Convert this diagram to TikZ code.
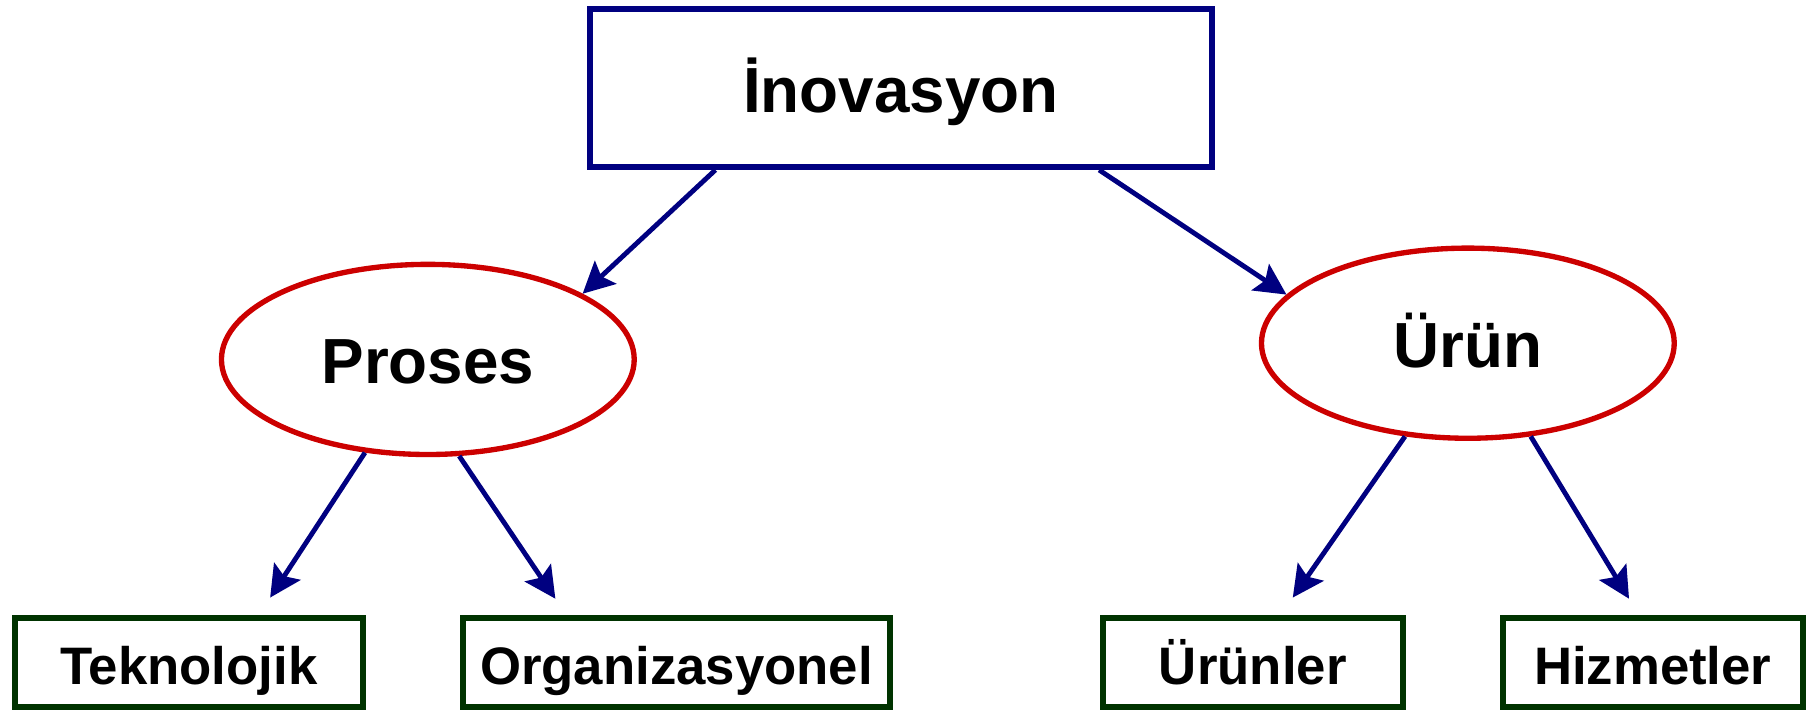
\documentclass[tikz,border=0pt]{standalone}
\usepackage{fontspec}
\setmainfont{Liberation Sans}
\usetikzlibrary{shapes.geometric,arrows.meta}
\definecolor{navyc}{RGB}{0,0,128}
\definecolor{redc}{RGB}{204,0,0}
\definecolor{greenc}{RGB}{0,51,0}
\tikzset{
  topbox/.style={draw=navyc,line width=2.6pt,rectangle,minimum width=268pt,minimum height=68pt,inner sep=0pt,text height=21pt,text depth=0pt,font=\fontsize{27.5}{33}\selectfont\bfseries},
  midell/.style={draw=redc,line width=2.3pt,ellipse,minimum width=178pt,minimum height=82pt,inner sep=0pt,text height=21pt,text depth=0pt,font=\fontsize{27.5}{33}\selectfont\bfseries},
  leafbox/.style={draw=greenc,line width=2.6pt,rectangle,minimum height=38.5pt,inner sep=0pt,text height=18.5pt,text depth=0pt,font=\fontsize{22.75}{27}\selectfont\bfseries},
  conn/.style={draw=navyc,line width=2.1pt,-{Stealth[length=13.5pt,width=13.5pt,inset=2.5pt]}}
}
\begin{document}
\begin{tikzpicture}[x=0.5pt,y=-0.5pt]
\useasboundingbox (0,0) rectangle (1568,615);
\node[topbox] (top) at (777,76) {İnovasyon};
\node[midell] (proses) at (369,310) {Proses};
\node[midell] (urun) at (1266,296) {Ürün};
\node[leafbox,minimum width=150pt] (tek) at (163,571.5) {Teknolojik};
\node[leafbox,minimum width=184.5pt] (org) at (583.5,571.5) {Organizasyonel};
\node[leafbox,minimum width=129.5pt] (urunler) at (1080.5,571.5) {Ürünler};
\node[leafbox,minimum width=129.5pt] (hiz) at (1425.5,571.5) {Hizmetler};
\draw[conn] ([xshift=-80pt]top.south) -- (proses.23.8);
\draw[conn] ([xshift=85.5pt]top.south) -- (urun.165.1);
\draw[conn] (proses.236.8) -- ([shift={(70,-15)}]tek.north);
\draw[conn] (proses.288.4) -- ([shift={(-104.5,-14)}]org.north);
\draw[conn] (urun.236.5) -- ([shift={(34.5,-15)}]urunler.north);
\draw[conn] (urun.304) -- ([shift={(-20.5,-14)}]hiz.north);
\end{tikzpicture}
\end{document}
